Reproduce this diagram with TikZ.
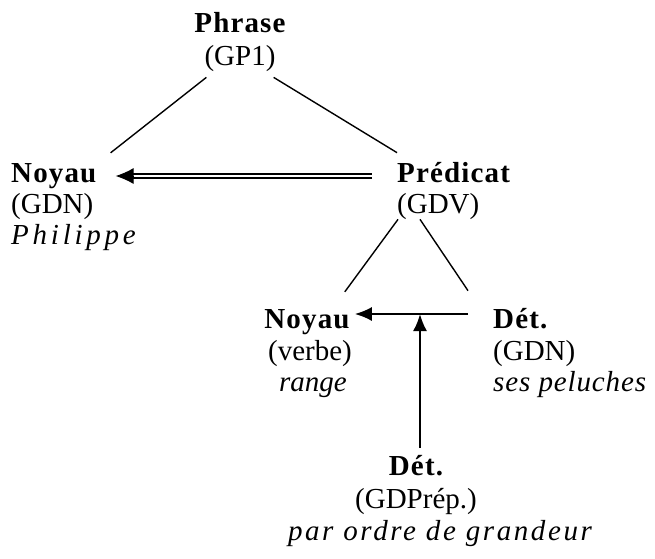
\documentclass[tikz,border=0pt]{standalone}
\usepackage{fontspec}
\setmainfont{Liberation Serif}
\newfontfamily\headfont[LetterSpace=4]{Liberation Serif}
\newfontfamily\exfont{Liberation Serif}
\usepackage{tikz}
\usetikzlibrary{arrows.meta}

\begin{document}
\begin{tikzpicture}[
	x=1pt, y=-1pt,
	every node/.style={inner sep=0pt, anchor=base, font=\fontsize{29}{32}\selectfont},
	head/.style={font=\fontsize{29}{32}\headfont\bfseries},
	cat/.style={},
	ex/.style={font=\fontsize{29}{32}\exfont\itshape},
	branch/.style={line width=1.4pt},
	link/.style={line width=2pt, -{Latex[length=17pt,width=14pt]}},
	equiv/.style={double, double distance=2.4pt, line width=1.7pt, shorten >=14pt},
	equiv tip/.style={line width=1pt, -{Latex[length=18pt,width=16pt]}}
]
\useasboundingbox (0,0) rectangle (655,558);

% Phrase
\node [head] (Phrase) at (240,32) {Phrase};
\node [cat] (Phrase GP) at (240,65) {(GP1)};

% Noyau (GDN)
\node [head, anchor=base west] (Noyau 1) at (11,182) {Noyau};
\node [cat, anchor=base west] (Noyau 1 GDN) at (11,213) {(GDN)};
\node [ex, anchor=base west] (Philippe) at (11,244) {\addfontfeature{LetterSpace=13}Philippe};

% Predicat (GDV)
\node [head, anchor=base west] (Predicat) at (397,182) {Prédicat};
\node [cat, anchor=base west] (Predicat GDV) at (397,213) {(GDV)};

% Noyau (verbe)
\node [head] (Noyau 2) at (307,328) {Noyau};
\node [cat] (Noyau 2 verbe) at (310,360) {(verbe)};
\node [ex] (range) at (313,391) {range};

% Det. (GDN)
\node [head, anchor=base west] (Det 1) at (493,328) {Dét.};
\node [cat, anchor=base west] (Det 1 GDN) at (493,360) {(GDN)};
\node [ex, anchor=base west] (peluches) at (493,391) {\addfontfeature{LetterSpace=3}ses peluches};

% Det. (GDPrep.)
\node [head] (Det 2) at (416,475) {Dét.};
\node [cat] (Det 2 GDPrep) at (416,508) {(GDPrép.)};
\node [ex] (grandeur) at (440,540) {\addfontfeature{LetterSpace=9}par ordre de grandeur};

% Branches
\draw [branch] ([shift={(2,6)}]Phrase GP.south west) -- ([shift={(14,-10)}]Noyau 1.north east);
\draw [branch] ([shift={(-2,6)}]Phrase GP.south east) -- ([shift={(0,-9)}]Predicat.north west);
\draw [branch] ([shift={(1,0)}]Predicat GDV.south west) -- ([shift={(-5,-17)}]Noyau 2.north east);
\draw [branch] ([shift={(23,0)}]Predicat GDV.south west) -- ([shift={(-25,-17)}]Det 1.north west);

% Relations
\coordinate (Equiv) at ([shift={(19,-6)}]Noyau 1.base east);
\draw [equiv] ([shift={(-25,-6)}]Predicat.base west) -- (Equiv);
\draw [equiv tip] ([xshift=18pt]Equiv) -- (Equiv);
\draw [link] ([shift={(-25,-14)}]Det 1.base west) coordinate (Fleche) -- ([shift={(5,-14)}]Noyau 2.base east);
\coordinate (Pied) at ([shift={(4,-7)}]Det 2.north);
\draw [link] (Pied) -- (Pied |- Fleche);
\end{tikzpicture}
\end{document}
